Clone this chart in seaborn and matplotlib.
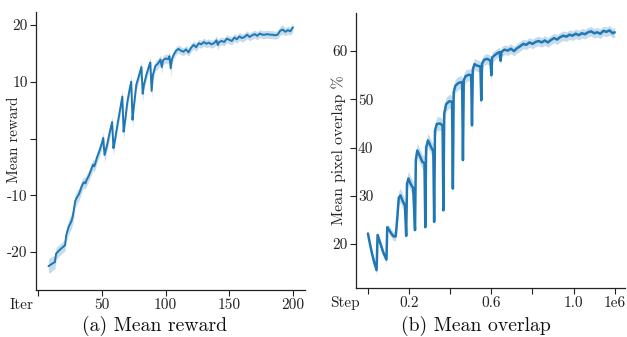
import numpy as np
import pandas as pd
import matplotlib
matplotlib.use("Agg")
import matplotlib.pyplot as plt
import matplotlib.transforms as mtransforms
import seaborn as sns

# ---------------- data (a) Mean reward ----------------
reward_iter = [8, 10, 12, 13, 14, 16, 18, 20, 21, 22, 23, 24, 26, 27, 28, 29, 30, 32, 34, 35,
               36, 37, 38, 40, 42, 43, 44, 45, 46, 48, 50, 51, 52, 54, 56, 58, 59, 60, 62, 64,
               66, 67, 68, 70, 72, 73, 74, 75, 77, 79, 81, 82, 83, 85, 87, 88, 89, 90, 92, 94,
               96, 97, 98, 100, 102, 103, 104, 105, 106, 108, 110, 112, 114, 116, 118, 120, 122, 124, 126, 128,
               130, 132, 134, 136, 138, 140, 141, 142, 144, 146, 148, 150, 152, 154, 156, 158, 160, 162, 164, 166,
               168, 170, 172, 174, 176, 178, 180, 182, 184, 186, 188, 190, 192, 194, 196, 198, 200]
reward_mean = [-22.5, -22.2, -21.9, -21.8, -20.3, -19.8, -19.4, -19.0, -18.8, -17.0, -16.2, -15.5, -14.6, -13.8, -12.5, -11.0, -10.5, -9.8, -8.5, -8.0,
               -7.7, -7.9, -7.3, -6.4, -5.2, -4.6, -4.9, -4.2, -3.4, -2.2, -0.8, 0.1, -2.9, -1.2, 1.0, 2.9, -1.7, -0.6, 2.2, 4.8,
               7.4, 1.2, 2.8, 6.5, 9.0, 10.0, 3.3, 5.5, 9.5, 11.0, 12.6, 7.9, 9.5, 11.3, 12.8, 13.4, 8.4, 11.2, 12.8, 13.2,
               13.9, 12.6, 13.8, 14.1, 14.0, 14.5, 12.4, 14.0, 14.6, 15.4, 15.8, 15.5, 15.3, 15.7, 15.2, 16.0, 16.5, 16.1, 16.8, 16.6,
               17.0, 16.7, 16.9, 16.6, 16.8, 17.3, 16.5, 17.0, 17.2, 17.0, 17.6, 17.4, 17.2, 17.8, 17.5, 18.0, 17.7, 17.9, 18.3, 17.9,
               18.2, 18.4, 18.1, 18.5, 18.3, 18.3, 18.4, 18.3, 18.3, 18.2, 18.3, 19.0, 19.2, 18.8, 19.1, 18.9, 19.6]
reward_err = [1.3, 1.3, 1.2, 1.2, 1.1, 1.0, 1.0, 1.0, 1.0, 1.1, 1.2, 1.3, 1.3, 1.3, 1.3, 1.2, 1.2, 1.1, 1.1, 1.0,
              1.0, 1.0, 1.0, 1.0, 1.0, 1.0, 1.0, 1.0, 1.0, 1.0, 1.0, 1.0, 1.3, 1.0, 1.0, 1.0, 1.3, 1.0, 1.0, 1.0,
              1.2, 1.5, 1.0, 1.0, 1.0, 1.2, 1.5, 1.0, 1.0, 1.0, 1.0, 1.4, 1.0, 0.9, 0.9, 0.9, 1.4, 0.9, 0.9, 0.9,
              0.8, 1.2, 0.8, 0.8, 0.8, 0.8, 1.5, 0.8, 0.8, 0.7, 0.7, 0.7, 0.7, 0.7, 0.7, 0.7, 0.7, 0.7, 0.7, 0.7,
              0.7, 0.7, 0.7, 0.7, 0.7, 0.8, 0.9, 0.7, 0.7, 0.7, 0.7, 0.7, 0.7, 0.7, 0.7, 0.7, 0.7, 0.7, 0.7, 0.7,
              0.7, 0.7, 0.7, 0.7, 0.7, 0.7, 0.7, 0.7, 0.7, 0.7, 0.7, 0.8, 0.8, 0.7, 0.7, 0.7, 0.8]

reward_xticks = [0, 50, 100, 150, 200]
reward_xticklabels = ["Iter", "50", "100", "150", "200"]
reward_yticks = [-20, -10, 0, 10, 20]
reward_yticklabels = ["-20", "-10", "", "10", "20"]

# ---------------- data (b) Mean overlap ----------------
overlap_step = [0.000, 0.010, 0.020, 0.030, 0.042, 0.047, 0.060, 0.075, 0.090, 0.094,
                0.105, 0.115, 0.125, 0.135, 0.142, 0.150, 0.158, 0.168, 0.180, 0.186,
                0.190, 0.197, 0.207, 0.220, 0.229, 0.233, 0.240, 0.252, 0.265, 0.275,
                0.279, 0.283, 0.292, 0.305, 0.318, 0.322, 0.326, 0.335, 0.350, 0.363,
                0.367, 0.371, 0.380, 0.395, 0.409, 0.413, 0.417, 0.425, 0.440, 0.458,
                0.462, 0.466, 0.475, 0.490, 0.502, 0.506, 0.510, 0.518, 0.530, 0.547,
                0.551, 0.555, 0.565, 0.580, 0.596, 0.600, 0.604, 0.615, 0.630, 0.640,
                0.645, 0.650, 0.665, 0.680, 0.695, 0.710, 0.725, 0.740, 0.755, 0.770,
                0.785, 0.800, 0.815, 0.830, 0.845, 0.860, 0.875, 0.890, 0.905, 0.920,
                0.935, 0.950, 0.965, 0.980, 0.995, 1.010, 1.025, 1.040, 1.055, 1.070,
                1.085, 1.100, 1.115, 1.130, 1.145, 1.160, 1.175, 1.190, 1.200]
overlap_mean = [22.2, 20.0, 18.0, 16.3, 14.6, 21.9, 20.2, 18.2, 16.8, 23.5,
                22.8, 22.1, 21.6, 21.6, 25.0, 29.6, 30.1, 29.0, 28.0, 21.7,
                32.5, 33.6, 32.5, 31.6, 22.9, 37.5, 39.4, 38.3, 37.0, 36.8,
                23.5, 40.0, 41.5, 40.3, 39.2, 24.6, 43.5, 44.9, 45.0, 44.6,
                27.0, 47.0, 49.0, 49.6, 49.5, 31.5, 51.5, 52.8, 53.4, 53.6,
                37.4, 54.0, 54.8, 55.1, 55.0, 44.6, 56.2, 57.3, 57.0, 56.8,
                49.8, 57.4, 58.2, 58.4, 58.0, 55.0, 58.7, 59.1, 59.6, 59.8,
                58.0, 59.9, 60.3, 60.1, 60.5, 60.0, 60.6, 61.0, 61.5, 61.3,
                61.8, 61.5, 61.9, 62.1, 61.8, 62.2, 61.8, 62.3, 62.7, 62.4,
                62.9, 63.2, 63.0, 63.4, 63.2, 63.6, 63.3, 63.7, 63.5, 63.9,
                64.1, 63.7, 63.9, 63.6, 64.2, 64.0, 64.3, 63.7, 63.9]
overlap_err = [0.5, 0.6, 0.7, 0.8, 0.9, 0.6, 0.7, 0.8, 0.8, 0.7,
               0.8, 0.9, 0.9, 0.9, 1.2, 1.4, 1.5, 1.5, 1.4, 0.8,
               1.5, 1.5, 1.5, 1.5, 0.8, 1.5, 1.5, 1.5, 1.5, 1.5,
               1.0, 1.5, 1.5, 1.5, 1.4, 1.2, 1.5, 1.5, 1.4, 1.3,
               1.2, 1.5, 1.5, 1.4, 1.4, 1.5, 1.5, 1.4, 1.4, 1.3,
               2.0, 1.4, 1.3, 1.2, 1.2, 2.0, 1.3, 1.2, 1.2, 1.2,
               2.0, 1.2, 1.1, 1.1, 1.1, 2.0, 1.1, 1.0, 1.0, 1.0,
               1.0, 1.0, 1.0, 1.0, 1.0, 1.0, 1.0, 1.0, 1.0, 1.0,
               1.0, 1.0, 1.0, 1.0, 1.0, 1.0, 1.0, 1.0, 1.0, 1.0,
               1.0, 1.0, 1.0, 1.0, 1.0, 1.0, 1.0, 1.0, 1.0, 1.0,
               1.0, 1.0, 1.0, 1.0, 1.0, 1.0, 1.0, 1.0, 1.0]

overlap_xticks = [0.0, 0.2, 0.4, 0.6, 0.8, 1.0, 1.2]
overlap_xticklabels = ["Step", "0.2", "", "0.6", "", "1.0", "1e6"]
overlap_yticks = [20, 30, 40, 50, 60]
overlap_yticklabels = ["20", "30", "40", "50", "60"]

# ---------------- style ----------------
sns.set_theme(style="ticks")
plt.rcParams["font.family"] = ["cmr10", "DejaVu Serif"]
plt.rcParams["axes.unicode_minus"] = False

blue = "#1f77b4"
ink = "#222222"
W, H = 627, 337
TICK_FS = 11.0
fig = plt.figure(figsize=(W / 100, H / 100), dpi=100)

def px_axes(l, r, t, b):
    return fig.add_axes([l / W, 1 - b / H, (r - l) / W, (b - t) / H])

ax1 = px_axes(36, 305, 12, 290)
ax2 = px_axes(356, 625, 13, 288)

df1 = pd.DataFrame({"iter": reward_iter, "reward": reward_mean, "err": reward_err})
df2 = pd.DataFrame({"step": overlap_step, "overlap": overlap_mean, "err": overlap_err})

ax1.fill_between(df1["iter"], df1["reward"] - df1["err"], df1["reward"] + df1["err"],
                 color=blue, alpha=0.25, linewidth=0)
sns.lineplot(data=df1, x="iter", y="reward", ax=ax1, color=blue, linewidth=1.4)

ax2.fill_between(df2["step"], df2["overlap"] - df2["err"], df2["overlap"] + df2["err"],
                 color=blue, alpha=0.25, linewidth=0)
sns.lineplot(data=df2, x="step", y="overlap", ax=ax2, color=blue, linewidth=1.8)

ax1.set_xlim(-1.8, 209.5)
ax1.set_ylim(-26.7, 22.3)
ax2.set_xlim(-0.058, 1.25)
ax2.set_ylim(10.9, 67.9)

first_xlabel_shift = {ax1: -5, ax2: -8}
inner_ylabels = {"30", "40", "50"}

for ax, xt, xl, yt, yl in [(ax1, reward_xticks, reward_xticklabels, reward_yticks, reward_yticklabels),
                           (ax2, overlap_xticks, overlap_xticklabels, overlap_yticks, overlap_yticklabels)]:
    ax.set_xticks(xt)
    ax.set_xticklabels([""] + xl[1:])
    ax.set_yticks(yt)
    shown = [("" if (ax is ax2 and s in inner_ylabels) else s) for s in yl]
    ax.set_yticklabels(shown)
    ax.set_xlabel("")
    ax.set_ylabel("")
    ax.tick_params(axis="both", labelsize=TICK_FS, length=4, width=0.8, pad=2,
                   colors=ink, labelcolor=ink)
    for s in ["left", "bottom"]:
        ax.spines[s].set_color(ink)
        ax.spines[s].set_linewidth(0.9)
    sns.despine(ax=ax)
    # first x label ("Iter"/"Step") sits just left of its tick, right-aligned
    tr = mtransforms.offset_copy(ax.get_xaxis_transform(), fig=fig,
                                 x=first_xlabel_shift[ax], y=-8, units="dots")
    ax.text(xt[0], 0, xl[0], transform=tr, ha="right", va="top",
            fontsize=TICK_FS, color=ink)

# labels 30/40/50 of panel (b) sit just right of the spine
tr_in = mtransforms.offset_copy(ax2.get_yaxis_transform(), fig=fig, x=2, y=0, units="dots")
for v, s in zip(overlap_yticks, overlap_yticklabels):
    if s in inner_ylabels:
        ax2.text(0, v, s, transform=tr_in, ha="left", va="center_baseline",
                 fontsize=TICK_FS, color=ink)

fig.text(14.5 / W, 1 - 140 / H, "Mean reward", rotation=90, ha="center", va="center",
         fontsize=10.8, color=ink)
fig.text(339 / W, 1 - 150 / H, "Mean pixel overlap %", rotation=90, ha="center", va="center",
         fontsize=11.3, color=ink)
fig.text(155 / W, 1 - 326 / H, "(a) Mean reward", ha="center", va="center",
         fontsize=14.2, color="#111111")
fig.text(476 / W, 1 - 326 / H, "(b) Mean overlap", ha="center", va="center",
         fontsize=14.2, color="#111111")

fig.savefig("out.png", dpi=100)
